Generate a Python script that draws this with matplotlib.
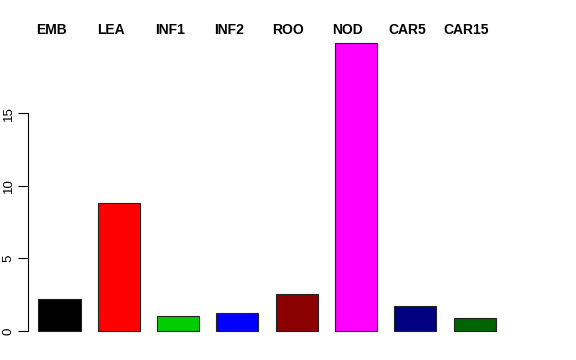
import matplotlib
matplotlib.use("Agg")
import matplotlib.pyplot as plt
import matplotlib.transforms as mtransforms

# tissue categories and their values
tissues = ['EMB', 'LEA', 'INF1', 'INF2', 'ROO', 'NOD', 'CAR5', 'CAR15']
values = [2.18, 8.84, 1.06, 1.22, 2.55, 19.87, 1.74, 0.87]
colors = ['black', 'red', '#00CD00', 'blue', '#8B0000', 'magenta', '#000080', '#006400']
yticks = [0, 5, 10, 15]

plt.rcParams['font.family'] = ['Liberation Sans', 'DejaVu Sans']

W, H = 576, 360
fig = plt.figure(figsize=(W / 100, H / 100), dpi=100)
# axes box in pixels: left 28, right 548, top 30, bottom 340
ax = fig.add_axes([28 / W, 1 - 340 / H, 520 / W, 310 / H])

x = list(range(len(tissues)))
ax.bar(x, values, width=0.71, color=colors, edgecolor='#222222', linewidth=0.8)

ax.set_xlim((28 - 59.5) / 59.3, (548 - 59.5) / 59.3)
ax.set_ylim(-(340 - 331) / 14.51, (331 - 30) / 14.51)

for s in ['top', 'right', 'bottom']:
    ax.spines[s].set_visible(False)
ax.spines['left'].set_bounds(0, 15)
ax.spines['left'].set_linewidth(0.8)
ax.set_xticks([])
ax.set_yticks(yticks)
ax.set_yticklabels([str(t) for t in yticks], rotation=90, va='center', fontsize=9.5)
ax.tick_params(axis='y', length=7.5, width=0.8, pad=2)

# labels along the top
trans = mtransforms.blended_transform_factory(ax.transData, fig.transFigure)
for xi, name in zip(x, tissues):
    ax.text(xi - 0.14, 1 - 29.5 / H, name, transform=trans, ha='center', va='center',
            fontsize=10, fontweight='bold', clip_on=False)

fig.savefig('out.png', dpi=100)
